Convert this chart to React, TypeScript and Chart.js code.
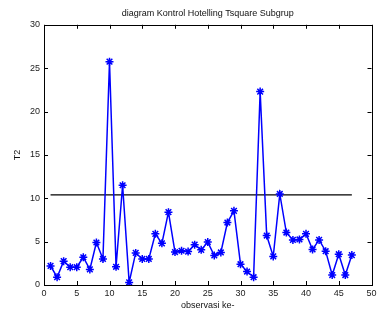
import React, { useEffect, useRef } from "react";
import { Chart, registerables } from "chart.js";

Chart.register(...registerables);

const observations = [1,2,3,4,5,6,7,8,9,10,11,12,13,14,15,16,17,18,19,20,21,22,23,24,25,26,27,28,29,30,31,32,33,34,35,36,37,38,39,40,41,42,43,44,45,46,47];
const t2Values = [2.2,0.9,2.75,2.05,2.05,3.2,1.8,4.9,3.0,25.75,2.1,11.5,0.3,3.7,3.0,3.0,5.9,4.8,8.4,3.8,3.95,3.85,4.65,4.05,4.95,3.4,3.75,7.2,8.55,2.4,1.55,0.9,22.3,5.7,3.3,10.5,6.05,5.2,5.25,5.9,4.1,5.2,3.9,1.15,3.55,1.15,3.45];
const controlLimit = 10.4;
const controlSpan = [1, 47];
const xTicks = [0,5,10,15,20,25,30,35,40,45,50];
const yTicks = [0,5,10,15,20,25,30];

const FONT = "'Liberation Sans', Arial, sans-serif";

const boxPlugin = {
  id: "matlabBox",
  beforeDatasetsDraw(chart: any) {
    const { ctx, chartArea } = chart;
    const { left, right, top, bottom } = chartArea;
    const xs = chart.scales.x;
    const ys = chart.scales.y;
    ctx.save();
    ctx.strokeStyle = "#000";
    ctx.lineWidth = 1;
    ctx.beginPath();
    const L = 4;
    xTicks.forEach((v) => {
      const px = Math.round(xs.getPixelForValue(v)) + 0.5;
      ctx.moveTo(px, bottom);
      ctx.lineTo(px, bottom - L);
      ctx.moveTo(px, top);
      ctx.lineTo(px, top + L);
    });
    yTicks.forEach((v) => {
      const py = Math.round(ys.getPixelForValue(v)) + 0.5;
      ctx.moveTo(left, py);
      ctx.lineTo(left + L, py);
      ctx.moveTo(right, py);
      ctx.lineTo(right - L, py);
    });
    ctx.stroke();
    ctx.strokeRect(Math.round(left) + 0.5, Math.round(top) + 0.5, Math.round(right - left), Math.round(bottom - top));
    ctx.restore();
  },
};

export default function App() {
  const ref = useRef<HTMLCanvasElement>(null);
  useEffect(() => {
    if (!ref.current) return;
    const chart = new Chart(ref.current, {
      type: "line",
      data: {
        datasets: [
          {
            data: observations.map((x, i) => ({ x, y: t2Values[i] })),
            borderColor: "#0000ff",
            backgroundColor: "#0000ff",
            borderWidth: 1.5,
            pointStyle: "star",
            pointRadius: 4,
            pointBorderWidth: 1.5,
            pointBorderColor: "#0000ff",
            tension: 0,
          },
          {
            data: controlSpan.map((x) => ({ x, y: controlLimit })),
            borderColor: "#000000",
            borderWidth: 1.2,
            pointRadius: 0,
          },
        ],
      },
      options: {
        responsive: false,
        animation: false,
        layout: { padding: { left: 0, right: 4, top: 0, bottom: 0 } },
        plugins: {
          legend: { display: false },
          tooltip: { enabled: false },
          title: {
            display: true,
            text: "diagram Kontrol Hotelling Tsquare Subgrup",
            fullSize: false,
            color: "#111",
            font: { family: FONT, size: 9, weight: "normal" },
            padding: { top: 8, bottom: 6 },
          },
        },
        scales: {
          x: {
            type: "linear",
            min: 0,
            max: 50,
            grid: { display: false, drawTicks: false },
            border: { display: false },
            ticks: {
              stepSize: 5,
              color: "#222",
              font: { family: FONT, size: 9 },
              padding: 3,
              maxRotation: 0,
              autoSkip: false,
            },
            title: {
              display: true,
              text: "observasi ke-",
              color: "#111",
              font: { family: FONT, size: 9 },
              padding: { top: 0, bottom: 1.5 },
            },
            afterFit: (s: any) => {
              s.height = 27;
              s.paddingLeft = 0;
              s.paddingRight = 0;
            },
          },
          y: {
            min: 0,
            max: 30,
            grid: { display: false, drawTicks: false },
            border: { display: false },
            ticks: {
              stepSize: 5,
              color: "#222",
              font: { family: FONT, size: 9 },
              padding: 4,
            },
            title: {
              display: true,
              text: "T2",
              color: "#111",
              font: { family: FONT, size: 9 },
              padding: { top: 12, bottom: 0 },
            },
            afterFit: (s: any) => {
              s.width = 44;
              s.paddingTop = 0;
              s.paddingBottom = 0;
            },
          },
        },
      },
      plugins: [boxPlugin],
    } as any);
    return () => chart.destroy();
  }, []);
  return (
    <div style={{ position: "absolute", left: 0, top: 0, width: 377, height: 312, background: "#fff" }}>
      <canvas ref={ref} width={377} height={312} />
    </div>
  );
}
